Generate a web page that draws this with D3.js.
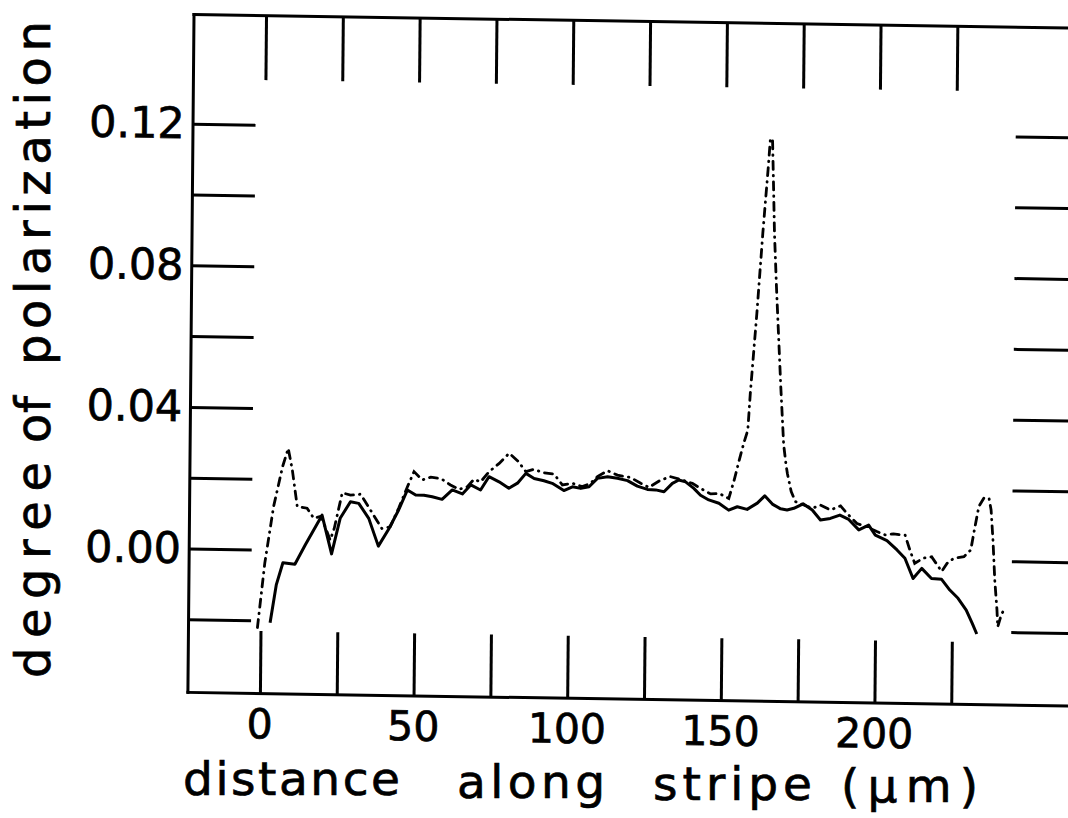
<!DOCTYPE html>
<html><head><meta charset="utf-8">
<script src="https://cdn.jsdelivr.net/npm/d3@7"></script>
<style>html,body{margin:0;padding:0;background:#fff;} svg{display:block;}</style>
</head><body>
<svg id="c" width="1068" height="818"></svg>
<script>
const solidX = [3.1,5.0,7.1,11.0,14.3,19.7,22.9,25.6,28.9,31.6,34.9,38.1,41.4,44.6,47.4,50.1,52.8,55.5,58.7,62.0,65.3,68.0,71.2,73.9,77.2,80.4,83.2,85.9,88.6,91.8,94.5,98.3,101.1,103.8,106.5,109.2,112.5,115.7,119.0,122.2,125.5,128.2,130.9,133.6,135.7,137.9,140.6,142.8,145.5,148.8,152.0,154.8,158.0,161.3,163.7,166.2,168.9,171.0,173.2,176.2,179.2,181.9,185.1,188.2,191.1,194.4,197.6,199.8,203.6,206.9,209.5,212.2,215.0,218.2,221.5,224.2,226.9,229.6,231.6,233.1];
const solidY = [-0.0206,-0.0099,-0.0036,-0.0040,0.0015,0.0100,-0.0009,0.0092,0.0139,0.0135,0.0093,0.0015,0.0063,0.0118,0.0175,0.0161,0.0161,0.0157,0.0150,0.0177,0.0166,0.0192,0.0178,0.0216,0.0202,0.0184,0.0199,0.0227,0.0213,0.0207,0.0200,0.0180,0.0191,0.0187,0.0192,0.0216,0.0221,0.0217,0.0211,0.0196,0.0187,0.0186,0.0181,0.0205,0.0215,0.0210,0.0192,0.0173,0.0160,0.0151,0.0132,0.0142,0.0135,0.0153,0.0174,0.0151,0.0138,0.0135,0.0140,0.0153,0.0136,0.0108,0.0113,0.0123,0.0111,0.0082,0.0096,0.0068,0.0053,0.0027,0.0004,-0.0053,-0.0024,-0.0052,-0.0054,-0.0084,-0.0107,-0.0140,-0.0177,-0.0207];
const dashX = [-1.0,1.2,3.9,6.7,8.5,9.9,11.6,14.8,17.0,19.4,22.4,23.7,26.2,28.9,32.2,35.4,39.2,41.9,44.6,47.4,49.5,52.2,55.0,58.2,61.4,64.2,66.9,69.0,71.2,73.9,77.2,80.4,83.2,85.9,88.6,91.3,95.1,97.8,101.1,104.3,107.0,109.2,112.5,115.7,120.0,123.3,126.0,129.8,133.0,136.8,140.1,142.8,146.1,148.8,152.0,153.7,155.3,156.7,158.0,158.7,160.6,162.3,163.9,164.5,165.2,165.6,166.1,166.9,167.8,168.6,169.7,170.5,171.0,172.3,173.7,176.4,179.2,181.9,185.1,188.4,190.5,193.8,197.0,200.3,203.0,205.7,209.5,211.1,212.7,215.5,218.2,221.5,223.2,225.4,228.7,230.9,232.0,233.4,235.0,236.7,237.4,238.1,238.8,239.6,239.9,241.0,242.1];
const dashY = [-0.0220,-0.0038,0.0122,0.0235,0.0287,0.0226,0.0123,0.0119,0.0091,0.0097,0.0030,0.0063,0.0164,0.0158,0.0161,0.0117,0.0065,0.0070,0.0123,0.0184,0.0227,0.0204,0.0212,0.0209,0.0191,0.0179,0.0187,0.0208,0.0201,0.0230,0.0254,0.0283,0.0262,0.0232,0.0239,0.0230,0.0226,0.0196,0.0201,0.0192,0.0202,0.0221,0.0238,0.0226,0.0220,0.0204,0.0193,0.0214,0.0224,0.0215,0.0206,0.0192,0.0177,0.0179,0.0165,0.0217,0.0274,0.0321,0.0359,0.0463,0.0689,0.0915,0.1104,0.1184,0.1180,0.1066,0.0916,0.0765,0.0615,0.0483,0.0320,0.0265,0.0238,0.0187,0.0159,0.0150,0.0141,0.0150,0.0137,0.0149,0.0128,0.0100,0.0091,0.0078,0.0069,0.0072,0.0069,0.0027,-0.0010,0.0005,0.0009,-0.0032,-0.0009,0.0006,0.0011,0.0030,0.0086,0.0153,0.0177,0.0177,0.0144,0.0059,-0.0054,-0.0138,-0.0186,-0.0152,-0.0133];
const xTickValues = [0,25,50,75,100,125,150,175,200,225];
const xLabelValues = [0,50,100,150,200];
const yTickValues = [-0.02,0,0.02,0.04,0.06,0.08,0.10,0.12];
const yLabelValues = [0,0.04,0.08,0.12];
const xTitleWords = ["distance","along","stripe","(\u03bcm)"];
const yTitleWords = ["degree","of","polarization"];

const svg = d3.select("#c");
const FONT = "DejaVu Sans";
const x = d3.scaleLinear().domain([-23.6, 264.5]).range([188.7, 1073.9]);
const y = d3.scaleLinear().domain([-0.0405, 0.151]).range([691.9, 14.0]);
const [xl, xr] = x.range();
const [yb, yt] = y.range();

// slight scan skew of the original figure
const sh = 0.0155, sv = 0.009;
const g = svg.append("g")
  .attr("transform", `matrix(1,${sh},${-sv},1,${sv*549},${-sh*190})`);

function styleAxis(sel){
  sel.selectAll("path.domain").attr("stroke","#000").attr("stroke-width",3).attr("stroke-linecap","square");
  sel.selectAll(".tick line").attr("stroke","#000").attr("stroke-width",3);
  sel.selectAll(".tick text").remove();
}
g.append("g").attr("transform",`translate(0,${yb})`)
  .call(d3.axisBottom(x).tickValues(xTickValues).tickSize(-62).tickSizeOuter(0).tickFormat(""))
  .call(styleAxis);
g.append("g").attr("transform",`translate(0,${yt})`)
  .call(d3.axisTop(x).tickValues(xTickValues).tickSize(-65).tickSizeOuter(0).tickFormat(""))
  .call(styleAxis);
g.append("g").attr("transform",`translate(${xl},0)`)
  .call(d3.axisLeft(y).tickValues(yTickValues).tickSize(-63).tickSizeOuter(0).tickFormat(""))
  .call(styleAxis);
g.append("g").attr("transform",`translate(${xr},0)`)
  .call(d3.axisRight(y).tickValues(yTickValues).tickSize(-62).tickSizeOuter(0).tickFormat(""))
  .call(styleAxis);

// tick labels
const fy = d3.format(".2f");
g.append("g").selectAll("text").data(yLabelValues).join("text")
  .attr("x", 181).attr("y", d => y(d) + 14.5)
  .attr("text-anchor","end").attr("font-family",FONT).attr("font-size",43)
  .attr("stroke","#000").attr("stroke-width",0.7)
  .text(d => fy(d));
g.append("g").selectAll("text").data(xLabelValues).join("text")
  .attr("x", d => x(d)).attr("y", 737)
  .attr("text-anchor","middle").attr("font-family",FONT).attr("font-size",41)
  .attr("stroke","#000").attr("stroke-width",0.7)
  .text(d => d3.format("d")(d));

// curves
const solidData = solidX.map((v,i)=>[v, solidY[i]]);
const dashData = dashX.map((v,i)=>[v, dashY[i]]);
const line = d3.line().x(d=>x(d[0])).y(d=>y(d[1]));
g.append("path").datum(solidData).attr("d", line)
  .attr("fill","none").attr("stroke","#000").attr("stroke-width",3).attr("stroke-linejoin","round");
g.append("path").datum(dashData).attr("d", line)
  .attr("fill","none").attr("stroke","#000").attr("stroke-width",2.8)
  .attr("stroke-linecap","round").attr("stroke-dasharray","8,6,0.5,6");

// axis titles (screen coordinates)
const xTitlePos = [[183,217,795],[457,148,797.5],[653,159,800],[841,137,802]];
svg.append("g").selectAll("text").data(xTitleWords).join("text")
  .attr("x",(d,i)=>xTitlePos[i][0]).attr("y",(d,i)=>xTitlePos[i][2])
  .attr("textLength",(d,i)=>xTitlePos[i][1]).attr("lengthAdjust","spacing")
  .attr("font-family",FONT).attr("font-size",47)
  .attr("stroke","#000").attr("stroke-width",0.7).text(d=>d);
const yTitlePos = [[678,216],[443,47],[365,344]];
svg.append("g").selectAll("text").data(yTitleWords).join("text")
  .attr("transform",(d,i)=>`translate(50,${yTitlePos[i][0]}) rotate(-90)`)
  .attr("textLength",(d,i)=>yTitlePos[i][1]).attr("lengthAdjust","spacing")
  .attr("font-family",FONT).attr("font-size",48)
  .attr("stroke","#000").attr("stroke-width",0.7).text(d=>d);
</script>
</body></html>
